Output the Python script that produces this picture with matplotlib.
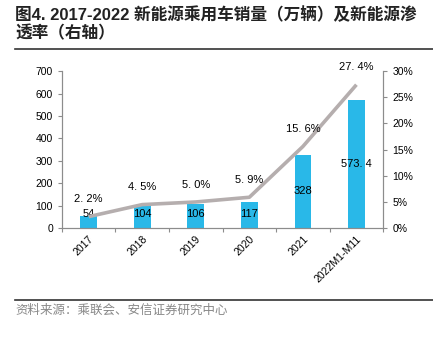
import matplotlib
matplotlib.use("Agg")
import matplotlib.pyplot as plt
from matplotlib.ticker import FuncFormatter, MultipleLocator

plt.rcParams["font.family"] = ["Liberation Sans", "Noto Sans CJK SC"]

# ================== 数据 ==================
years = ["2017", "2018", "2019", "2020", "2021", "2022M1-M11"]
sales = [54, 104, 106, 117, 328, 573.4]          # 新能源乘用车销量（万辆）
sales_labels = ["54", "104", "106", "117", "328", "573. 4"]
penetration = [2.2, 4.5, 5.0, 5.9, 15.6, 27.4]   # 渗透率（%）
pen_labels = ["2. 2%", "4. 5%", "5. 0%", "5. 9%", "15. 6%", "27. 4%"]

bar_color = "#29B8E8"
line_color = "#B5AEAE"
spine_color = "#8C8C8C"

fig = plt.figure(figsize=(4.33, 3.37), dpi=100)
ax = fig.add_axes([0.143, 0.323, 0.742, 0.466])
ax2 = ax.twinx()

x = list(range(len(years)))
ax.bar(x, sales, width=0.31, color=bar_color, zorder=2)
for xi, v, lab in zip(x, sales, sales_labels):
    ax.text(xi, max(v / 2, 62), lab, ha="center", va="center", fontsize=8, zorder=5)

ax2.plot(x, penetration, color=line_color, linewidth=2.6, solid_capstyle="butt", zorder=3)
for xi, p, lab in zip(x, penetration, pen_labels):
    ax2.text(xi, p + 3.3, lab, ha="center", va="center", fontsize=8)

ax.set_xlim(-0.5, len(years) - 0.5)
ax.set_ylim(0, 700)
ax.yaxis.set_major_locator(MultipleLocator(100))
ax2.set_ylim(0, 30)
ax2.yaxis.set_major_locator(MultipleLocator(5))
ax2.yaxis.set_major_formatter(FuncFormatter(lambda v, _: f"{v:.0f}%"))

# x 轴刻度画在类别之间
ax.set_xticks([i + 0.5 for i in range(-1, len(years))], minor=False)
ax.set_xticklabels([])
ax.set_xticks(x, minor=True)
ax.set_xticklabels(years, minor=True, rotation=45, ha="right", rotation_mode="anchor", fontsize=7.5)
ax.tick_params(axis="x", which="minor", length=0, pad=4)
ax.tick_params(axis="x", which="major", length=3, color=spine_color)
ax.tick_params(axis="y", labelsize=7.5, length=3, color=spine_color)
ax2.tick_params(axis="y", labelsize=7.5, length=3, color=spine_color)

for a in (ax, ax2):
    a.spines["top"].set_visible(False)
    for s in ("left", "right", "bottom"):
        a.spines[s].set_color(spine_color)
        a.spines[s].set_linewidth(0.8)

# 标题与分隔线
fig.text(0.035, 0.955, "图4. 2017-2022 新能源乘用车销量（万辆）及新能源渗",
         fontsize=12, fontweight="bold", color="#222222", va="center")
fig.text(0.035, 0.900, "透率（右轴）", fontsize=12, fontweight="bold",
         color="#222222", va="center")
fig.add_artist(plt.Line2D([0.035, 1.0], [0.855, 0.855], color="#333333", linewidth=1.2))

fig.add_artist(plt.Line2D([0.035, 1.0], [0.11, 0.11], color="#333333", linewidth=1.2))
fig.text(0.035, 0.078, "资料来源：乘联会、安信证券研究中心", fontsize=9,
         color="#888888", style="italic", va="center")

fig.savefig("out.png", dpi=100)
